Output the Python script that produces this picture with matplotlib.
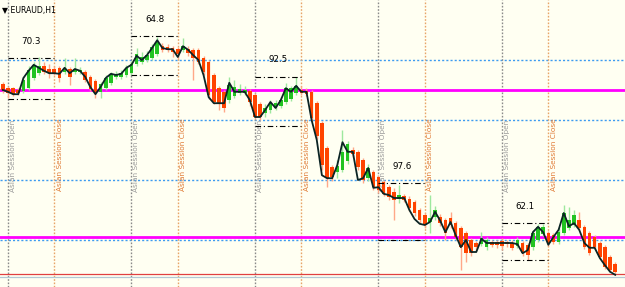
import matplotlib
matplotlib.use('Agg')
import matplotlib.pyplot as plt
import numpy as np

# EURAUD H1 candles (bar index 0..119)
opens = [1.4760, 1.4753, 1.4753, 1.4750, 1.4748, 1.4753, 1.4770, 1.4778, 1.4790, 1.4785,
         1.4785, 1.4787, 1.4780, 1.4785, 1.4780, 1.4780, 1.4780, 1.4772, 1.4765, 1.4747,
         1.4753, 1.4762, 1.4772, 1.4772, 1.4775, 1.4778, 1.4793, 1.4797, 1.4800, 1.4803,
         1.4810, 1.4823, 1.4822, 1.4820, 1.4818, 1.4817, 1.4818, 1.4817, 1.4817, 1.4803,
         1.4797, 1.4775, 1.4753, 1.4747, 1.4733, 1.4740, 1.4745, 1.4745, 1.4748, 1.4742,
         1.4727, 1.4712, 1.4717, 1.4720, 1.4723, 1.4730, 1.4735, 1.4745, 1.4750, 1.4748,
         1.4747, 1.4728, 1.4695, 1.4653, 1.4622, 1.4613, 1.4617, 1.4632, 1.4650, 1.4647,
         1.4633, 1.4603, 1.4613, 1.4605, 1.4597, 1.4588, 1.4580, 1.4568, 1.4573, 1.4568,
         1.4563, 1.4550, 1.4542, 1.4530, 1.4538, 1.4538, 1.4533, 1.4537, 1.4528, 1.4520,
         1.4512, 1.4500, 1.4495, 1.4493, 1.4488, 1.4497, 1.4497, 1.4498, 1.4497, 1.4495,
         1.4490, 1.4495, 1.4492, 1.4488, 1.4500, 1.4510, 1.4512, 1.4508, 1.4497, 1.4512,
         1.4520, 1.4525, 1.4533, 1.4522, 1.4512, 1.4505, 1.4495, 1.4488, 1.4472, 1.4460]
highs = [1.4763, 1.4757, 1.4755, 1.4753, 1.4772, 1.4790, 1.4797, 1.4805, 1.4797, 1.4793,
         1.4790, 1.4790, 1.4803, 1.4788, 1.4803, 1.4788, 1.4783, 1.4775, 1.4768, 1.4763,
         1.4775, 1.4780, 1.4782, 1.4783, 1.4792, 1.4798, 1.4820, 1.4813, 1.4815, 1.4827,
         1.4838, 1.4828, 1.4827, 1.4823, 1.4822, 1.4837, 1.4823, 1.4820, 1.4820, 1.4807,
         1.4800, 1.4778, 1.4757, 1.4750, 1.4772, 1.4767, 1.4760, 1.4757, 1.4752, 1.4745,
         1.4730, 1.4727, 1.4733, 1.4733, 1.4738, 1.4762, 1.4757, 1.4772, 1.4757, 1.4753,
         1.4750, 1.4732, 1.4698, 1.4657, 1.4625, 1.4633, 1.4683, 1.4665, 1.4655, 1.4650,
         1.4637, 1.4627, 1.4617, 1.4608, 1.4600, 1.4592, 1.4587, 1.4592, 1.4577, 1.4573,
         1.4567, 1.4553, 1.4545, 1.4575, 1.4557, 1.4543, 1.4537, 1.4547, 1.4532, 1.4523,
         1.4515, 1.4503, 1.4498, 1.4513, 1.4505, 1.4500, 1.4500, 1.4503, 1.4500, 1.4500,
         1.4505, 1.4498, 1.4495, 1.4517, 1.4527, 1.4527, 1.4515, 1.4512, 1.4520, 1.4558,
         1.4555, 1.4550, 1.4547, 1.4525, 1.4515, 1.4508, 1.4498, 1.4492, 1.4475, 1.4463]
lows = [1.4745, 1.4737, 1.4740, 1.4742, 1.4745, 1.4750, 1.4767, 1.4775, 1.4777, 1.4770,
        1.4775, 1.4763, 1.4777, 1.4758, 1.4777, 1.4777, 1.4763, 1.4748, 1.4737, 1.4737,
        1.4750, 1.4758, 1.4768, 1.4768, 1.4772, 1.4775, 1.4790, 1.4793, 1.4797, 1.4800,
        1.4807, 1.4813, 1.4813, 1.4805, 1.4802, 1.4813, 1.4807, 1.4767, 1.4793, 1.4775,
        1.4735, 1.4727, 1.4717, 1.4713, 1.4728, 1.4737, 1.4742, 1.4742, 1.4723, 1.4702,
        1.4700, 1.4705, 1.4712, 1.4717, 1.4720, 1.4727, 1.4732, 1.4742, 1.4742, 1.4740,
        1.4698, 1.4668, 1.4617, 1.4588, 1.4598, 1.4603, 1.4613, 1.4627, 1.4638, 1.4617,
        1.4595, 1.4598, 1.4583, 1.4578, 1.4573, 1.4567, 1.4533, 1.4562, 1.4563, 1.4548,
        1.4540, 1.4528, 1.4520, 1.4512, 1.4533, 1.4523, 1.4500, 1.4520, 1.4500, 1.4450,
        1.4463, 1.4473, 1.4483, 1.4490, 1.4483, 1.4488, 1.4487, 1.4483, 1.4488, 1.4483,
        1.4487, 1.4473, 1.4467, 1.4483, 1.4497, 1.4507, 1.4490, 1.4493, 1.4493, 1.4508,
        1.4517, 1.4522, 1.4517, 1.4485, 1.4475, 1.4485, 1.4468, 1.4452, 1.4447, 1.4442]
closes = [1.4750, 1.4745, 1.4743, 1.4745, 1.4767, 1.4783, 1.4792, 1.4790, 1.4780, 1.4778,
          1.4778, 1.4770, 1.4787, 1.4772, 1.4785, 1.4783, 1.4767, 1.4752, 1.4745, 1.4760,
          1.4770, 1.4777, 1.4777, 1.4778, 1.4787, 1.4793, 1.4810, 1.4805, 1.4808, 1.4822,
          1.4830, 1.4817, 1.4817, 1.4813, 1.4810, 1.4823, 1.4812, 1.4803, 1.4797, 1.4780,
          1.4742, 1.4730, 1.4728, 1.4720, 1.4758, 1.4755, 1.4752, 1.4750, 1.4730, 1.4705,
          1.4705, 1.4720, 1.4728, 1.4728, 1.4733, 1.4753, 1.4753, 1.4757, 1.4745, 1.4743,
          1.4703, 1.4673, 1.4625, 1.4603, 1.4605, 1.4623, 1.4647, 1.4660, 1.4643, 1.4622,
          1.4600, 1.4620, 1.4588, 1.4583, 1.4577, 1.4572, 1.4567, 1.4575, 1.4567, 1.4553,
          1.4545, 1.4533, 1.4525, 1.4537, 1.4550, 1.4528, 1.4512, 1.4525, 1.4505, 1.4488,
          1.4478, 1.4478, 1.4488, 1.4503, 1.4500, 1.4492, 1.4492, 1.4490, 1.4493, 1.4487,
          1.4500, 1.4478, 1.4475, 1.4512, 1.4522, 1.4522, 1.4495, 1.4497, 1.4513, 1.4545,
          1.4533, 1.4542, 1.4520, 1.4488, 1.4478, 1.4488, 1.4472, 1.4455, 1.4450, 1.4447]

# black price line drawn over the candles
line_values = [1.4750, 1.4747, 1.4743, 1.4743, 1.4770, 1.4782, 1.4792, 1.4787, 1.4782, 1.4778,
               1.4778, 1.4777, 1.4787, 1.4778, 1.4785, 1.4782, 1.4772, 1.4755, 1.4743, 1.4755,
               1.4770, 1.4777, 1.4775, 1.4777, 1.4787, 1.4792, 1.4807, 1.4800, 1.4808, 1.4820,
               1.4833, 1.4820, 1.4818, 1.4818, 1.4805, 1.4823, 1.4817, 1.4808, 1.4800, 1.4775,
               1.4738, 1.4728, 1.4728, 1.4728, 1.4762, 1.4747, 1.4747, 1.4747, 1.4733, 1.4705,
               1.4705, 1.4717, 1.4730, 1.4720, 1.4733, 1.4753, 1.4747, 1.4757, 1.4747, 1.4747,
               1.4700, 1.4667, 1.4608, 1.4603, 1.4603, 1.4625, 1.4663, 1.4647, 1.4647, 1.4600,
               1.4603, 1.4620, 1.4587, 1.4588, 1.4577, 1.4575, 1.4570, 1.4570, 1.4570, 1.4550,
               1.4535, 1.4527, 1.4525, 1.4530, 1.4547, 1.4532, 1.4513, 1.4530, 1.4508, 1.4488,
               1.4500, 1.4480, 1.4480, 1.4502, 1.4495, 1.4495, 1.4495, 1.4495, 1.4495, 1.4495,
               1.4493, 1.4478, 1.4483, 1.4513, 1.4522, 1.4513, 1.4492, 1.4505, 1.4517, 1.4545,
               1.4523, 1.4528, 1.4517, 1.4495, 1.4487, 1.4487, 1.4470, 1.4458, 1.4447, 1.4442]

# Asian sessions
session_open_bar = [1, 25, 49, 73, 97]
session_close_bar = [10, 34, 58, 82, 106]
session_high = [1.4803, 1.4840, 1.4772, 1.4595, 1.4528]
session_low = [1.4735, 1.4775, 1.4690, 1.4500, 1.4467]
session_pips = ['70.3', '64.8', '92.5', '97.6', '62.1']

grid_levels = [1.4800, 1.4700, 1.4600, 1.4500]
magenta_levels = [1.4750, 1.4505]
red_level = 1.4444
gray_level = 1.4438

bg = '#fffff2'
up_body, up_wick = '#22c322', '#9ee89e'
dn_body, dn_wick = '#ff4400', '#ffa888'

fig = plt.figure(figsize=(6.25, 2.87), dpi=100, facecolor=bg)
ax = fig.add_axes([0, 0, 1, 1])
ax.set_facecolor(bg)
ax.set_xlim(-0.55, 120.9)
ax.set_ylim(1.4900 - 287 / 6000, 1.4900)
ax.axis('off')

for lvl in grid_levels:
    ax.axhline(lvl, color='#3d9bf0', lw=1, ls=(0, (1.5, 1.5)), zorder=1)
for lvl in magenta_levels:
    ax.axhline(lvl, color='#ff00ff', lw=2, zorder=2)
ax.axhline(red_level, color='#e04040', lw=0.9, zorder=2)
ax.axhline(gray_level, color='#b2c8d4', lw=0.9, zorder=2)

# session lines and labels
for so, sc in zip(session_open_bar, session_close_bar):
    ax.axvline(so, color='#8a8a8a', lw=1, ls=(0, (1.2, 1.2)), zorder=1)
    ax.axvline(sc, color='#e8a468', lw=1, ls=(0, (1.2, 1.2)), zorder=1)
    ax.text(so + 0.95, 1.4640, 'Asian Session Open', rotation=90, color='#9a9a9a',
            fontsize=5.3, ha='center', va='center', zorder=1)
    ax.text(sc + 1.05, 1.4642, 'Asian Session Close', rotation=90, color='#e07a35',
            fontsize=5.3, ha='center', va='center', zorder=1)

# candles
x = np.arange(len(opens))
o = np.array(opens)
c = np.array(closes)
up = c >= o
for i in x:
    wick_col = up_wick if up[i] else dn_wick
    ax.vlines(i, lows[i], highs[i], color=wick_col, lw=1, zorder=3)
body_low = np.minimum(o, c)
body_h = np.maximum(np.abs(c - o), 0.00012)
ax.bar(x[up], body_h[up], bottom=body_low[up], width=0.7,
       color=up_body, linewidth=0, zorder=4)
ax.bar(x[~up], body_h[~up], bottom=body_low[~up], width=0.7,
       color=dn_body, linewidth=0, zorder=4)

ax.plot(x, line_values, color='#0b2424', lw=1.3, zorder=5)

# session range boxes
for so, sc, hi, lo, txt in zip(session_open_bar, session_close_bar,
                               session_high, session_low, session_pips):
    ax.hlines([hi, lo], so, sc, color='black', lw=0.8,
              linestyles=[(0, (5, 2.5, 1, 2.5))], zorder=6)
    ax.text((so + sc) / 2, hi + 0.0028, txt, fontsize=6.3, color='black',
            ha='center', va='center', zorder=6)

fig.text(0.003, 0.978, '\u25bc EURAUD,H1', fontsize=5.6, color='black',
         ha='left', va='top')

fig.savefig('out.png', dpi=100, facecolor=bg)
